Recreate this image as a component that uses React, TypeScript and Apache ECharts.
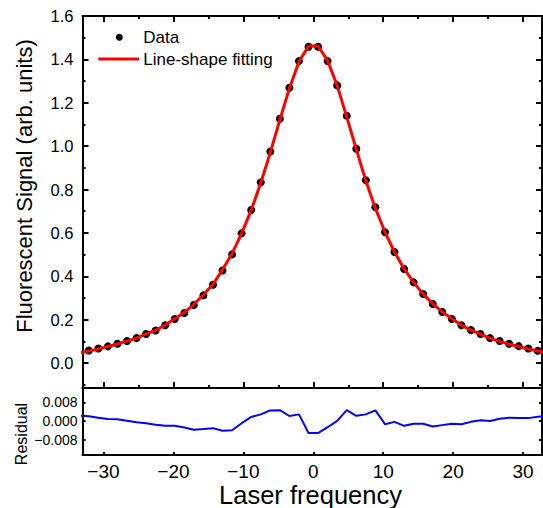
import React, { useEffect, useRef } from "react";
import * as echarts from "echarts";

// Laser frequency (x) of each measured point
const frequency = [
  -33.47, -32.1, -30.74, -29.37, -28.0, -26.64, -25.27, -23.91, -22.54, -21.17,
  -19.81, -18.44, -17.08, -15.71, -14.34, -12.98, -11.61, -10.25, -8.88, -7.51,
  -6.15, -4.78, -3.42, -2.05, -0.68, 0.68, 2.05, 3.42, 4.78, 6.15,
  7.51, 8.88, 10.25, 11.61, 12.98, 14.34, 15.71, 17.08, 18.44, 19.81,
  21.17, 22.54, 23.91, 25.27, 26.64, 28.0, 29.37, 30.74, 32.1, 33.47,
];
// Measured fluorescent signal
const signal = [
  0.05, 0.058, 0.067, 0.077, 0.089, 0.102, 0.115, 0.134, 0.15, 0.174,
  0.203, 0.231, 0.268, 0.312, 0.361, 0.427, 0.501, 0.598, 0.706, 0.833,
  0.975, 1.126, 1.269, 1.392, 1.458, 1.458, 1.392, 1.28, 1.14, 0.988,
  0.843, 0.718, 0.603, 0.512, 0.434, 0.372, 0.318, 0.272, 0.235, 0.203,
  0.174, 0.152, 0.134, 0.115, 0.102, 0.089, 0.078, 0.067, 0.057, 0.05,
];
// Line-shape fit
const fit = [
  0.047, 0.055, 0.065, 0.076, 0.088, 0.101, 0.115, 0.134, 0.151, 0.175,
  0.204, 0.233, 0.271, 0.315, 0.363, 0.431, 0.504, 0.598, 0.704, 0.83,
  0.97, 1.121, 1.266, 1.389, 1.462, 1.462, 1.394, 1.279, 1.135, 0.985,
  0.84, 0.713, 0.604, 0.512, 0.435, 0.372, 0.318, 0.274, 0.236, 0.204,
  0.175, 0.152, 0.133, 0.114, 0.1, 0.087, 0.076, 0.065, 0.055, 0.047,
];
// Residual of the fit
const residual = [
  0.0023, 0.0021, 0.0015, 0.0009, 0.0008, 0.0002, -0.0005, -0.0009, -0.0015, -0.002,
  -0.002, -0.0027, -0.0037, -0.0034, -0.003, -0.0041, -0.0039, -0.0009, 0.0018, 0.0029,
  0.0046, 0.0047, 0.0022, 0.0029, -0.0051, -0.0051, -0.0026, 0.0001, 0.0047, 0.0023,
  0.0029, 0.0046, -0.0013, -0.0003, -0.002, -0.0011, -0.0011, -0.0023, -0.0017, -0.0011,
  -0.0013, -0.0003, 0.0004, 0.0001, 0.001, 0.0015, 0.0013, 0.0013, 0.0019, 0.0023,
];

const xMajorTicks = [-30, -20, -10, 0, 10, 20, 30];
const xMinorTicks = [-25, -15, -5, 5, 15, 25];
const yMajorTicks = [0, 0.2, 0.4, 0.6, 0.8, 1.0, 1.2, 1.4, 1.6];
const yMinorTicks = [-0.1, 0.1, 0.3, 0.5, 0.7, 0.9, 1.1, 1.3, 1.5];
const residualTicks = [-0.008, 0, 0.008];

const FONT = "'Liberation Sans', Arial, Helvetica, sans-serif";
const minus = (s: string) => s.replace("-", "\u2212");

export default function App() {
  const ref = useRef<HTMLDivElement>(null);
  useEffect(() => {
    const chart = echarts.init(ref.current!, null, { renderer: "svg" });
    const X_MIN = -33, X_MAX = 32.7;
    const Y_MIN = -0.115, Y_MAX = 1.6;
    const R_MIN = -0.0145, R_MAX = 0.0142;
    const lineStyle = { color: "#000", width: 2 };
    const tickDef = (ticks: number[], len: number) =>
      ticks.length
        ? { show: true, inside: true, length: len, customValues: ticks, lineStyle }
        : { show: false };

    const xAx = (gridIndex: number, position: string, ticks: number[], len: number, showLine: boolean, label?: any) => ({
      type: "value",
      gridIndex,
      position,
      min: X_MIN,
      max: X_MAX,
      axisLine: { show: showLine, onZero: false, lineStyle },
      axisTick: tickDef(ticks, len),
      axisLabel: label || { show: false },
      splitLine: { show: false },
    });
    const yAx = (gridIndex: number, position: string, min: number, max: number, ticks: number[], len: number, showLine: boolean, label?: any) => ({
      type: "value",
      gridIndex,
      position,
      min,
      max,
      axisLine: { show: showLine, onZero: false, lineStyle },
      axisTick: tickDef(ticks, len),
      axisLabel: label || { show: false },
      splitLine: { show: false },
    });

    chart.setOption({
      animation: false,
      backgroundColor: "#fff",
      grid: [
        { left: 82.5, top: 16, width: 459.5, height: 372 },
        { left: 82.5, top: 388, width: 459.5, height: 67 },
      ],
      xAxis: [
        xAx(0, "bottom", xMajorTicks, 6, true),
        xAx(0, "top", xMajorTicks, 6, true),
        xAx(0, "bottom", xMinorTicks, 3, false),
        xAx(0, "top", xMinorTicks, 3, false),
        xAx(1, "bottom", xMajorTicks, 3, true, {
          show: true,
          customValues: xMajorTicks,
          margin: 7,
          fontSize: 19,
          color: "#000",
          fontFamily: FONT,
          formatter: (v: number) => minus(String(v)),
        }),
        xAx(1, "top", [], 0, true),
      ],
      yAxis: [
        yAx(0, "left", Y_MIN, Y_MAX, yMajorTicks, 6, true, {
          show: true,
          customValues: yMajorTicks,
          margin: 9,
          fontSize: 16.5,
          color: "#000",
          fontFamily: FONT,
          formatter: (v: number) => v.toFixed(1),
        }),
        yAx(0, "right", Y_MIN, Y_MAX, yMajorTicks, 6, true),
        yAx(0, "left", Y_MIN, Y_MAX, yMinorTicks, 3, false),
        yAx(0, "right", Y_MIN, Y_MAX, yMinorTicks, 3, false),
        yAx(1, "left", R_MIN, R_MAX, residualTicks, 3, true, {
          show: true,
          customValues: residualTicks,
          margin: 5,
          fontSize: 14,
          color: "#000",
          fontFamily: FONT,
          formatter: (v: number) => minus(v.toFixed(3)),
        }),
        yAx(1, "right", R_MIN, R_MAX, residualTicks, 3, true),
      ],
      series: [
        {
          type: "scatter",
          name: "Data",
          xAxisIndex: 0,
          yAxisIndex: 0,
          data: frequency.map((x, i) => [x, signal[i]]),
          symbol: "circle",
          symbolSize: 8,
          itemStyle: { color: "#000", opacity: 1 },
          clip: true,
          z: 2,
        },
        {
          type: "line",
          name: "Line-shape fitting",
          xAxisIndex: 0,
          yAxisIndex: 0,
          data: frequency.map((x, i) => [x, fit[i]]),
          symbol: "none",
          lineStyle: { color: "#ff0000", width: 3 },
          clip: true,
          z: 3,
        },
        {
          type: "line",
          name: "Residual",
          xAxisIndex: 4,
          yAxisIndex: 4,
          data: frequency.map((x, i) => [x, residual[i]]),
          symbol: "none",
          lineStyle: { color: "#0000ff", width: 2 },
          clip: true,
        },
      ],
      graphic: [
        { type: "circle", shape: { cx: 119.3, cy: 37.3, r: 3.5 }, style: { fill: "#000" } },
        { type: "line", shape: { x1: 98.3, y1: 59, x2: 139, y2: 59 }, style: { stroke: "#ff0000", lineWidth: 3 } },
        {
          type: "text", x: 143.3, y: 37.5,
          style: { text: "Data", fontSize: 17, fontFamily: FONT, fill: "#000", align: "left", verticalAlign: "middle" },
        },
        {
          type: "text", x: 143.3, y: 59.2,
          style: { text: "Line-shape fitting", fontSize: 17, fontFamily: FONT, fill: "#000", align: "left", verticalAlign: "middle" },
        },
        {
          type: "text", x: 24, y: 186, rotation: Math.PI / 2,
          style: { text: "Fluorescent Signal (arb. units)", fontSize: 22, fontFamily: FONT, fill: "#000", align: "center", verticalAlign: "middle" },
        },
        {
          type: "text", x: 21.5, y: 434, rotation: Math.PI / 2,
          style: { text: "Residual", fontSize: 16, fontFamily: FONT, fill: "#000", align: "center", verticalAlign: "middle" },
        },
        {
          type: "text", x: 310.5, y: 494.5,
          style: { text: "Laser frequency", fontSize: 25.5, fontFamily: FONT, fill: "#000", align: "center", verticalAlign: "middle" },
        },
      ],
    });
    return () => chart.dispose();
  }, []);
  return (
    <div
      ref={ref}
      style={{ position: "fixed", left: 0, top: 0, width: 543, height: 508, background: "#fff" }}
    />
  );
}
